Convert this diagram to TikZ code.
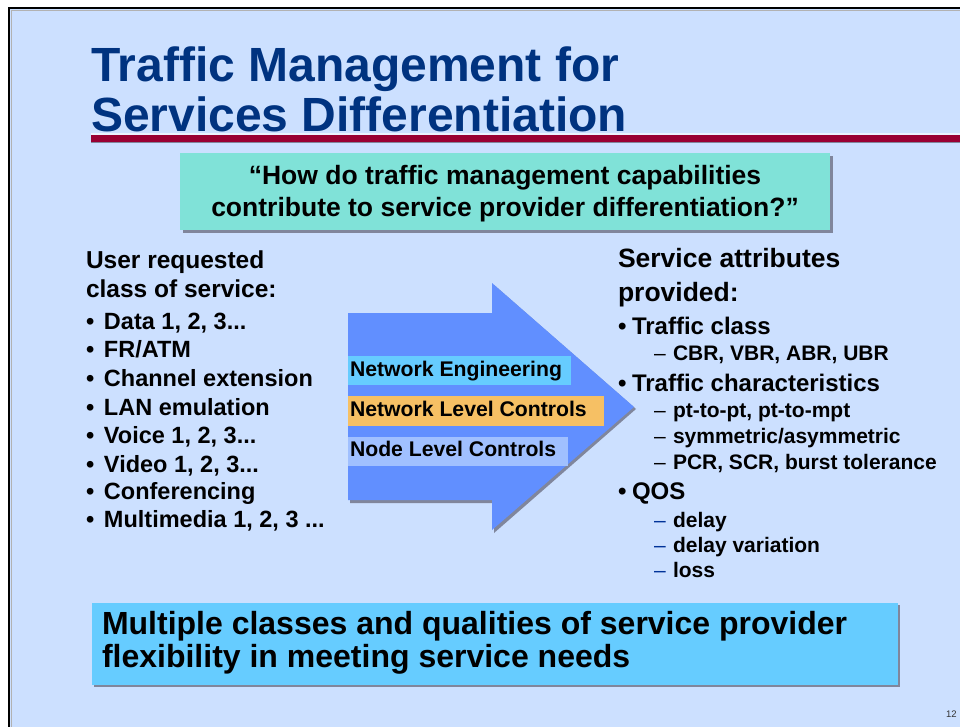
\documentclass[tikz,border=0pt]{standalone}
\usepackage{fontspec}
\setmainfont{Liberation Sans}
\definecolor{slidebg}{RGB}{204,224,255}
\definecolor{titleblue}{RGB}{0,51,128}
\definecolor{rulered}{RGB}{153,0,51}
\definecolor{quotebox}{RGB}{128,226,216}
\definecolor{skybox}{RGB}{102,204,255}
\definecolor{arrowblue}{RGB}{97,143,255}
\definecolor{bandorange}{RGB}{246,192,100}
\definecolor{bandlilac}{RGB}{160,192,255}
\definecolor{shadowgray}{RGB}{128,134,156}
\definecolor{dashblue}{RGB}{0,51,153}
\definecolor{pagegray}{RGB}{50,50,50}
\newcommand\fsz[1]{\fontsize{#1}{#1}\selectfont}
\newcommand\lbul{\makebox[18pt][l]{•}}
\newcommand\rbul{\makebox[14pt][l]{•}}
\newcommand\rdash{\makebox[19pt][l]{\mdseries –}}
\newcommand\qdash{\makebox[19pt][l]{\mdseries\textcolor{dashblue}{–}}}
\tikzset{
  txt/.style={anchor=base west, inner sep=0pt, outer sep=0pt, font=\bfseries},
  ttl/.style={txt, text=titleblue, font=\bfseries\fsz{48}},
  lhead/.style={txt, font=\bfseries\fsz{24.5}},
  litem/.style={txt, font=\bfseries\fsz{23.5}},
  rhead/.style={txt, font=\bfseries\fsz{26.5}},
  ritem/.style={txt, font=\bfseries\fsz{24}},
  rsub/.style={txt, font=\bfseries\fsz{21}},
  bandtxt/.style={txt, font=\bfseries\fsz{21.2}},
  shadowbox/.style={fill=shadowgray},
}
\begin{document}
\begin{tikzpicture}[x=1pt,y=-1pt]
\useasboundingbox (0,0) rectangle (960,727);
% page and slide frame
\fill[white] (0,0) rectangle (960,727);
\fill[slidebg] (9,8) rectangle (970,740);
\draw[black, line width=2.5pt] (9,8) rectangle (1000,760);
\draw[gray!60, line width=0.8pt] (11.5,10.5) -- (11.5,740);
\draw[gray!60, line width=0.8pt] (11.5,10.5) -- (970,10.5);

% title
\node[ttl] (t1) at (91,82) {Traffic Management for};
\node[ttl] (t2) at (91,132) {Services Differentiation};
\fill[white!60!slidebg] (91,133.5) rectangle (960,135);
\fill[rulered] (91,135) rectangle (960,142);
\fill[shadowgray] (91,142) rectangle (960,143.5);

% question box
\fill[shadowbox] (183,156) rectangle (833,233);
\fill[quotebox] (180,153) rectangle (830,230);
\node[txt, anchor=base, font=\bfseries\fsz{26.5}] (q1) at (505,185) {“How do traffic management capabilities};
\node[txt, anchor=base, font=\bfseries\fsz{26.5}] (q2) at (505,217) {contribute to service provider differentiation?”};

% left column
\node[lhead] (lh1) at (86,268) {User requested};
\node[lhead] (lh2) at (86,297) {class of service:};
\node[litem] (l1) at (86,329) {\lbul Data 1, 2, 3...};
\node[litem] (l2) at (86,357) {\lbul FR/ATM};
\node[litem] (l3) at (86,386) {\lbul Channel extension};
\node[litem] (l4) at (86,415) {\lbul LAN emulation};
\node[litem] (l5) at (86,443) {\lbul Voice 1, 2, 3...};
\node[litem] (l6) at (86,472) {\lbul Video 1, 2, 3...};
\node[litem] (l7) at (86,499) {\lbul Conferencing};
\node[litem] (l8) at (86,527) {\lbul Multimedia 1, 2, 3 ...};

% central arrow
\fill[shadowgray] (350,315) -- (494,315) -- (494,285) -- (636,409) -- (494,533) -- (494,503) -- (350,503) -- cycle;
\fill[arrowblue] (348,313) -- (492,313) -- (492,283) -- (634,407) -- (492,530) -- (492,500) -- (348,500) -- cycle;
\fill[skybox] (348,356) rectangle (571,385);
\fill[bandorange] (348,396) rectangle (604,426);
\fill[bandlilac] (348,437) rectangle (568,466);
\node[bandtxt] (b1) at (350,376) {Network Engineering};
\node[bandtxt] (b2) at (350,416) {Network Level Controls};
\node[bandtxt] (b3) at (350,456) {Node Level Controls};

% right column
\node[rhead] (rh1) at (618,267) {Service attributes};
\node[rhead] (rh2) at (618,301) {provided:};
\node[ritem] (r1) at (618,334) {\rbul Traffic class};
\node[rsub] (r1a) at (654,360) {\rdash CBR, VBR, ABR, UBR};
\node[ritem] (r2) at (618,391) {\rbul Traffic characteristics};
\node[rsub] (r2a) at (654,417) {\rdash pt-to-pt, pt-to-mpt};
\node[rsub] (r2b) at (654,443) {\rdash symmetric/asymmetric};
\node[rsub] (r2c) at (654,469) {\rdash PCR, SCR, burst tolerance};
\node[ritem] (r3) at (618,499) {\rbul QOS};
\node[rsub] (r3a) at (654,527) {\qdash delay};
\node[rsub] (r3b) at (654,552) {\qdash delay variation};
\node[rsub] (r3c) at (654,577) {\qdash loss};

% conclusion box
\fill[shadowbox] (94,605) rectangle (900,687);
\fill[skybox] (92,603) rectangle (898,685);
\node[txt, font=\bfseries\fsz{32}] (c1) at (102,634) {Multiple classes and qualities of service provider};
\node[txt, font=\bfseries\fsz{32}] (c2) at (102,667) {flexibility in meeting service needs};

% page number
\node[txt, font=\fsz{9.5}, text=pagegray] (pg) at (946,717) {12};
\end{tikzpicture}
\end{document}
